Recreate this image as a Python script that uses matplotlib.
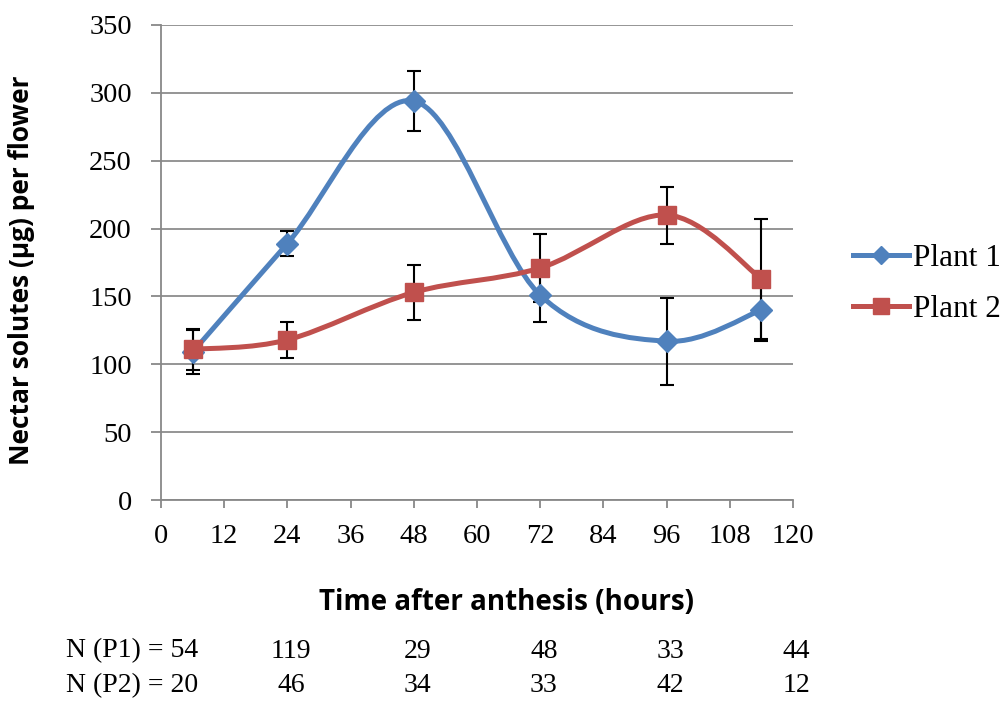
import numpy as np
import matplotlib
matplotlib.use("Agg")
import matplotlib.pyplot as plt
from matplotlib.path import Path
from matplotlib.patches import PathPatch
from matplotlib.lines import Line2D
from matplotlib.transforms import blended_transform_factory

# ---- data ----
hours = [6, 24, 48, 72, 96, 114]
plant1 = [109, 189, 294, 151, 117, 140]
plant1_err = [16, 9, 22, 20, 32, 23]
plant2 = [111, 118, 153, 171, 210, 163]
plant2_err = [15, 13, 20, 25, 21, 44]
n_p1 = [54, 119, 29, 48, 33, 44]
n_p2 = [20, 46, 34, 33, 42, 12]
xticks = [0, 12, 24, 36, 48, 60, 72, 84, 96, 108, 120]
yticks = [0, 50, 100, 150, 200, 250, 300, 350]

BLUE = "#4F81BD"
RED = "#C0504D"
SERIF = "Liberation Serif"
BOLD = "Open Sans"

W, H = 1005, 701
fig = plt.figure(figsize=(W / 100, H / 100), dpi=100)
ax = fig.add_axes([161 / W, 1 - 500 / H, (793 - 161) / W, 475 / H])
ax.set_xlim(0, 120)
ax.set_ylim(0, 350)


def smooth_path(xs, ys):
    pts = np.column_stack([xs, ys]).astype(float)
    n = len(pts)
    verts = [pts[0]]
    codes = [Path.MOVETO]
    for i in range(n - 1):
        p0 = pts[i - 1] if i > 0 else pts[i]
        p1 = pts[i]
        p2 = pts[i + 1]
        p3 = pts[i + 2] if i + 2 < n else pts[i + 1]
        c1 = p1 + (p2 - p0) / 6.0
        c2 = p2 - (p3 - p1) / 6.0
        verts += [c1, c2, p2]
        codes += [Path.CURVE4] * 3
    return Path(verts, codes)


for ys, err, color, marker, ms, z in [
    (plant1, plant1_err, BLUE, "D", 11.5, 3),
    (plant2, plant2_err, RED, "s", 13, 4),
]:
    ax.errorbar(hours, ys, yerr=err, fmt="none", ecolor="black",
                elinewidth=1.5, capsize=5, capthick=1.5, zorder=2)
    patch = PathPatch(smooth_path(hours, ys), facecolor="none",
                      edgecolor=color, lw=3.6, zorder=z, capstyle="round")
    ax.add_patch(patch)
    ax.plot(hours, ys, linestyle="none", marker=marker, ms=ms,
            color=color, zorder=z + 0.5)

ax.set_xticks(xticks)
ax.set_yticks(yticks)
ax.set_xticklabels([str(v) for v in xticks], fontfamily=SERIF, fontsize=20.5)
ax.set_yticklabels([str(v) for v in yticks], fontfamily=SERIF, fontsize=20.5)
ax.tick_params(axis="x", direction="out", length=6, width=1.3, color="#888888", pad=11)
ax.tick_params(axis="y", direction="out", length=7, width=1.3, color="#888888", pad=14)
ax.grid(axis="y", color="#8c8c8c", lw=1.3)
ax.set_axisbelow(True)
for s in ["top", "right"]:
    ax.spines[s].set_visible(False)
for s in ["left", "bottom"]:
    ax.spines[s].set_color("#888888")
    ax.spines[s].set_linewidth(1.3)

ax.set_ylabel("Nectar solutes (µg) per flower", fontfamily=BOLD,
              fontweight="bold", fontsize=19)
ax.yaxis.set_label_coords(-0.199, 0.484)
ax.set_xlabel("Time after anthesis (hours)", fontfamily=BOLD,
              fontweight="bold", fontsize=20)
ax.xaxis.set_label_coords(0.546, -0.185)

# legend
handles = [
    Line2D([], [], color=BLUE, lw=3.6, marker="D", ms=9),
    Line2D([], [], color=RED, lw=3.6, marker="s", ms=11),
]
leg = ax.legend(handles, ["Plant 1", "Plant 2"], loc="center left",
                bbox_to_anchor=(1.095, 0.455), frameon=False,
                borderpad=0, borderaxespad=0,
                prop={"family": SERIF, "size": 22.5}, handlelength=1.78,
                handletextpad=0.14, labelspacing=0.72)

# N rows
tr = blended_transform_factory(ax.transData, fig.transFigure)
n_pos = [7, 24, 48, 72, 96, 120]
for row, (label, vals) in enumerate([("N (P1) = ", n_p1), ("N (P2) = ", n_p2)]):
    yy = 1 - (651 + row * 35) / H
    for i, (xp, v) in enumerate(zip(n_pos, vals)):
        if i == 0:
            ax.text(xp, yy, f"{label}{v}", transform=tr, ha="right", va="center",
                    fontfamily=SERIF, fontsize=20, clip_on=False)
        else:
            ax.text(xp + 0.7, yy, str(v), transform=tr, ha="center", va="center",
                    fontfamily=SERIF, fontsize=20, clip_on=False)

fig.savefig("out.png", dpi=100)
